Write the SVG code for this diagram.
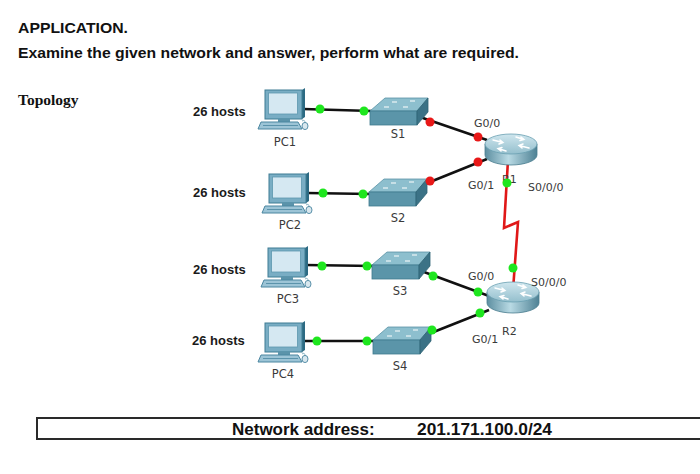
<svg xmlns="http://www.w3.org/2000/svg" width="700" height="474" viewBox="0 0 700 474">
<style>
.h{font-family:"Liberation Sans",Arial,sans-serif;font-weight:bold;fill:#111}
.hosts{font-family:"Liberation Sans",Arial,sans-serif;font-weight:bold;font-size:13px;fill:#1a1a1a}
.lbl{font-family:"DejaVu Sans",Verdana,sans-serif;font-size:11px;fill:#3a3a3a}
.nm{font-family:"DejaVu Sans",Verdana,sans-serif;font-size:11.5px;fill:#3a3a3a}
.eth{stroke:#111;stroke-width:2.6;fill:none}
.ser{stroke:#e01818;stroke-width:2.6;fill:none;stroke-linejoin:miter}
.g{fill:#1ee61e}
.r{fill:#e81818}
</style>
<defs>
<linearGradient id="rtop" x1="0" y1="0" x2="0" y2="1">
<stop offset="0" stop-color="#cfe6ee"/><stop offset="1" stop-color="#94bfcd"/>
</linearGradient>
<linearGradient id="rside" x1="0" y1="0" x2="1" y2="0">
<stop offset="0" stop-color="#5d8fa1"/><stop offset="0.45" stop-color="#b9dae4"/><stop offset="1" stop-color="#4e8194"/>
</linearGradient>
<symbol id="pc" overflow="visible">
<polygon points="44,2 47,0 47,29 44,31" fill="#2c6a83"/>
<rect x="7" y="2" width="37" height="29" fill="#79adc4" stroke="#3f7c94" stroke-width="1"/>
<rect x="10.5" y="5" width="29" height="21" fill="#d5e8f2" stroke="#5d97ae" stroke-width="0.8"/>
<rect x="20" y="31" width="12" height="3" fill="#5b93aa"/>
<polygon points="3,34 40,34 44,41 0,41" fill="#9cc4d6" stroke="#4a86a0" stroke-width="1"/>
<line x1="5" y1="37.5" x2="40" y2="37.5" stroke="#4a86a0" stroke-width="0.8"/>
<path d="M44,33 Q47,31 47,35" stroke="#6a9cb0" stroke-width="0.8" fill="none"/>
<ellipse cx="47" cy="38" rx="3" ry="3.6" fill="#d8e7ee" stroke="#4a86a0" stroke-width="0.9"/>
</symbol>
<symbol id="sw" overflow="visible">
<polygon points="0,13 15,0 58,0 47,13" fill="#8dbfce" stroke="#5a93a6" stroke-width="0.8"/>
<rect x="0" y="13" width="47" height="14" fill="#5b95a9" stroke="#3f7a8e" stroke-width="0.8"/>
<polygon points="47,13 58,0 58,14 47,27" fill="#3b7286" stroke="#2f6374" stroke-width="0.8"/>
<g stroke="#ffffff" stroke-width="1.2" opacity="0.85">
<line x1="22" y1="4" x2="27" y2="4"/><line x1="40" y1="3" x2="45" y2="3"/>
<line x1="14" y1="9" x2="19" y2="9"/><line x1="33" y1="9" x2="38" y2="9"/>
</g>
</symbol>
<symbol id="rt" overflow="visible">
<path d="M-26,0 L-26,11 A26,10 0 0 0 26,11 L26,0 Z" fill="url(#rside)" stroke="#4a7d8f" stroke-width="0.8"/>
<ellipse cx="0" cy="0" rx="26" ry="10" fill="url(#rtop)" stroke="#6a9fb1" stroke-width="0.8"/>
<g stroke="#ffffff" stroke-width="1.5" fill="none" stroke-linecap="round">
<path d="M-18,-4 L-8,-1.5 M-11,-4 L-8,-1.5 L-12,0"/>
<path d="M18,4 L8,1.5 M11,4 L8,1.5 L12,0"/>
<path d="M5,-7 L13,-4.5 M10,-7 L13,-4.5 L9,-3.5"/>
<path d="M-5,7 L-13,4.5 M-10,7 L-13,4.5 L-9,3.5"/>
</g>
</symbol>
</defs>
<rect width="700" height="474" fill="#ffffff"/>
<g id="header">
<text class="h" x="18" y="33" font-size="15.5" textLength="110" lengthAdjust="spacingAndGlyphs">APPLICATION.</text>
<text class="h" x="18" y="58" font-size="15.5" textLength="501" lengthAdjust="spacingAndGlyphs">Examine the given network and answer, perform what are required.</text>
<text x="18" y="105" font-family="Liberation Serif,'Times New Roman',serif" font-weight="bold" font-size="15.5" fill="#111">Topology</text>
</g>
<g id="host-labels">
<text class="hosts" x="193" y="116">26 hosts</text>
<text class="hosts" x="193" y="197">26 hosts</text>
<text class="hosts" x="193" y="274">26 hosts</text>
<text class="hosts" x="192" y="345">26 hosts</text>
</g>
<g id="connectors">
<line class="eth" x1="303" y1="109" x2="372" y2="111"/>
<line class="eth" x1="307" y1="193" x2="370" y2="194"/>
<line class="eth" x1="305" y1="265" x2="374" y2="266"/>
<line class="eth" x1="304" y1="341" x2="375" y2="341"/>
<line class="eth" x1="420" y1="117" x2="487" y2="140"/>
<line class="eth" x1="420" y1="186" x2="487" y2="159"/>
<line class="eth" x1="424" y1="272" x2="489" y2="296"/>
<line class="eth" x1="426" y1="335" x2="489" y2="310"/>
<polyline class="ser" points="508,160 504,228 518,222 513,290"/>
</g>
<g id="R1">
<use href="#rt" x="511" y="144"/>
<text class="lbl" x="474" y="127">G0/0</text>
<text class="lbl" x="468" y="189">G0/1</text>
<text class="lbl" x="502" y="183">R1</text>
<text class="lbl" x="528" y="191">S0/0/0</text>
</g>
<g id="R2">
<use href="#rt" x="513" y="292"/>
<text class="lbl" x="468" y="280">G0/0</text>
<text class="lbl" x="472" y="343">G0/1</text>
<text class="lbl" x="502" y="335">R2</text>
<text class="lbl" x="531" y="286">S0/0/0</text>
</g>
<g id="PC1"><use href="#pc" x="258" y="88"/><text class="nm" x="285" y="146" text-anchor="middle">PC1</text></g>
<g id="PC2"><use href="#pc" x="262" y="172"/><text class="nm" x="290" y="229" text-anchor="middle">PC2</text></g>
<g id="PC3"><use href="#pc" x="261" y="246"/><text class="nm" x="288" y="303" text-anchor="middle">PC3</text></g>
<g id="PC4"><use href="#pc" x="258" y="321"/><text class="nm" x="283" y="378" text-anchor="middle">PC4</text></g>
<g id="S1"><use href="#sw" x="370" y="98"/><text class="nm" x="398" y="138" text-anchor="middle">S1</text></g>
<g id="S2"><use href="#sw" x="369" y="179"/><text class="nm" x="398" y="222" text-anchor="middle">S2</text></g>
<g id="S3"><use href="#sw" x="372" y="252"/><text class="nm" x="400" y="295" text-anchor="middle">S3</text></g>
<g id="S4"><use href="#sw" x="373" y="327"/><text class="nm" x="400" y="370" text-anchor="middle">S4</text></g>
<g id="link-lights">
<circle class="g" cx="320" cy="109" r="4.5"/><circle class="g" cx="364" cy="111" r="4.5"/>
<circle class="g" cx="323" cy="193" r="4.5"/><circle class="g" cx="363" cy="194" r="4.5"/>
<circle class="g" cx="322" cy="266" r="4.5"/><circle class="g" cx="367" cy="266" r="4.5"/>
<circle class="g" cx="317" cy="341" r="4.5"/><circle class="g" cx="367" cy="341" r="4.5"/>
<circle class="r" cx="430" cy="122" r="4.5"/><circle class="r" cx="478" cy="137" r="4.5"/>
<circle class="r" cx="430" cy="181" r="4.5"/><circle class="r" cx="478" cy="162" r="4.5"/>
<circle class="g" cx="433" cy="276" r="4.5"/><circle class="g" cx="478" cy="292" r="4.5"/>
<circle class="g" cx="432" cy="330" r="4.5"/><circle class="g" cx="480" cy="313" r="4.5"/>
<circle class="g" cx="507" cy="183" r="4.5"/><circle class="g" cx="513" cy="268" r="4.5"/>
</g>
<g id="network-address">
<path d="M700,418 H37 V439 H700" fill="none" stroke="#2a2a2a" stroke-width="2"/>
<text class="h" x="232" y="435" font-size="17">Network address:</text>
<text class="h" x="417" y="435" font-size="17" textLength="135" lengthAdjust="spacingAndGlyphs">201.171.100.0/24</text>
</g>
</svg>
